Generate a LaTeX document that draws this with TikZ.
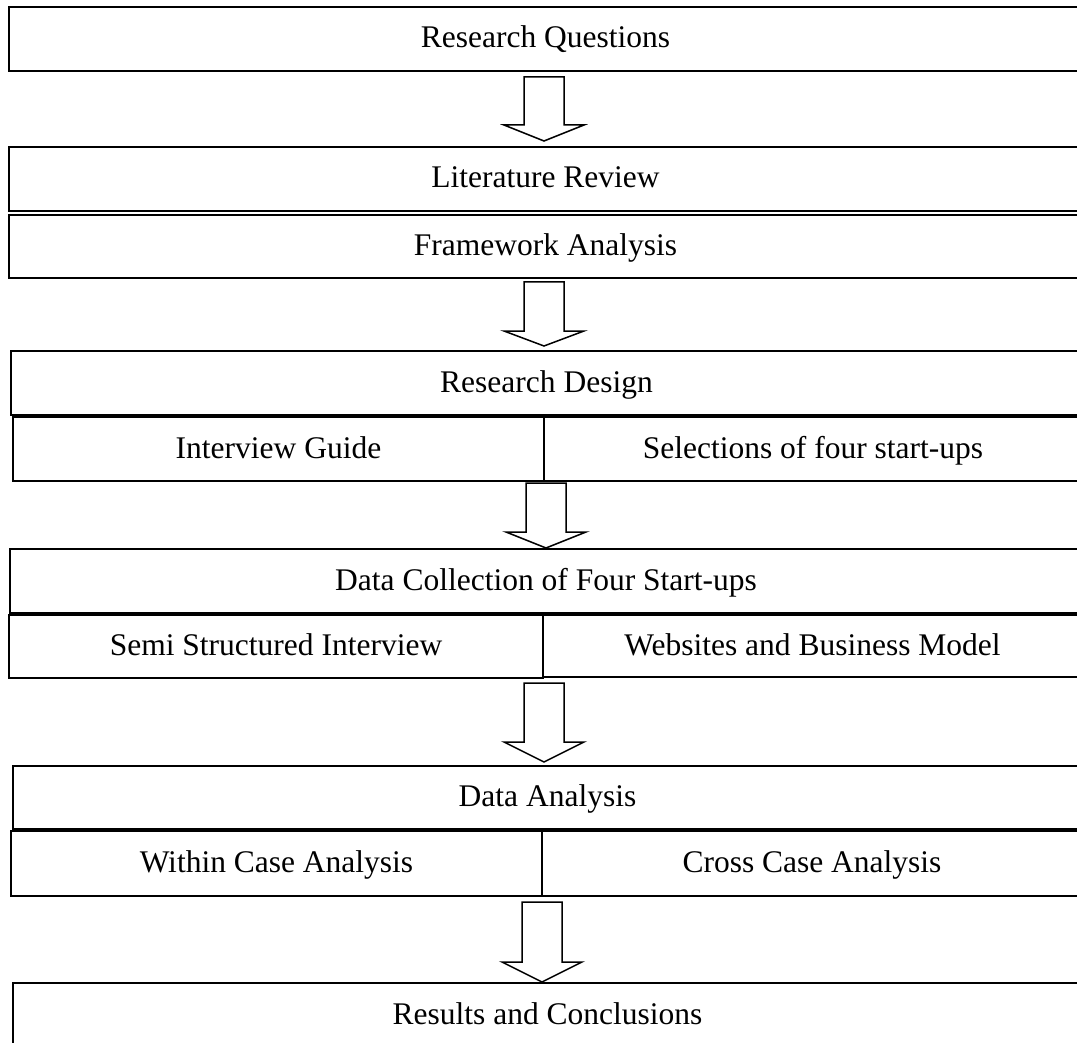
\documentclass[tikz,border=0pt]{standalone}
\usepackage{fontspec}
\setmainfont{Liberation Serif}
\usetikzlibrary{calc}

\tikzset{
  stagebox/.style={draw=black, line width=1.6pt, fill=white, anchor=north west,
    inner sep=0pt, outer sep=0pt, align=center,
    text height=23pt, text depth=5pt,
    font=\fontsize{31.5}{36}\selectfont},
  flowarrow/.style={draw=black, line width=1.5pt, fill=white, line join=miter}
}

% hollow block arrow: #1 = name, #2 = x, #3 = shaft top, #4 = head base, #5 = tip
\newcommand{\flowdown}[5]{%
  \coordinate (#1s) at (#2,#3);
  \coordinate (#1t) at (#2,#5);
  \draw[flowarrow]
    ($(#1s)+(-20,0)$) -- ($(#1s)+(20,0)$) -- (#2+20,#4) -- (#2+40,#4)
    -- (#1t) -- (#2-40,#4) -- (#2-20,#4) -- cycle;
}

\begin{document}
\begin{tikzpicture}[x=1pt,y=-1pt]
  \useasboundingbox[fill=white] (0,0) rectangle (1077,1043);

  % stages
  \node[stagebox, minimum width=1073pt, minimum height=64pt] (rq) at (9,7) {Research Questions};
  \node[stagebox, minimum width=1073pt, minimum height=64pt] (lr) at (9,147) {Literature Review};
  \node[stagebox, minimum width=1073pt, minimum height=63pt] (fa) at (9,215) {Framework Analysis};

  \node[stagebox, minimum width=1071pt, minimum height=64pt] (rd) at (11,351) {Research Design};
  \node[stagebox, minimum width=531pt, minimum height=64pt] (ig) at (13,417) {Interview Guide};
  \node[stagebox, minimum width=538pt, minimum height=64pt] (sel) at (544,417) {Selections of four start-ups};

  \node[stagebox, minimum width=1072pt, minimum height=64pt] (dc) at (10,549) {Data Collection of Four Start-ups};
  \node[stagebox, minimum width=534pt, minimum height=63pt] (ssi) at (9,615) {Semi Structured Interview};
  \node[stagebox, minimum width=539pt, minimum height=62pt] (web) at (543,615) {Websites and Business Model};

  \node[stagebox, minimum width=1069pt, minimum height=63pt] (da) at (13,766) {Data Analysis};
  \node[stagebox, minimum width=531pt, minimum height=65pt] (wca) at (11,831) {Within Case Analysis};
  \node[stagebox, minimum width=540pt, minimum height=65pt] (cca) at (542,831) {Cross Case Analysis};

  \node[stagebox, minimum width=1069pt, minimum height=64pt] (rc) at (13,983) {Results and Conclusions};

  % arrows between stages
  \flowdown{a1}{544}{77}{125}{141}
  \flowdown{a2}{544}{282}{331}{346}
  \flowdown{a3}{546}{483}{532}{548}
  \flowdown{a4}{544}{683}{742}{762}
  \flowdown{a5}{542}{902}{962}{982}
\end{tikzpicture}
\end{document}
